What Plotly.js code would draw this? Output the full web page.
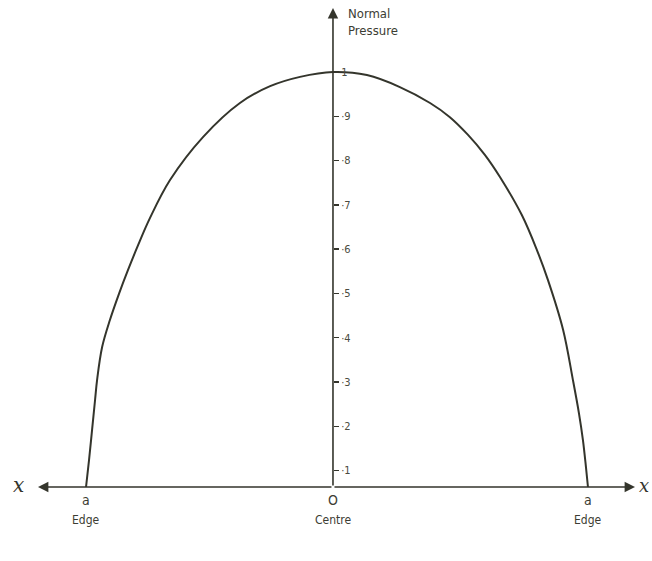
<!DOCTYPE html>
<html>
<head>
<meta charset="utf-8">
<script src="https://cdn.plot.ly/plotly-3.0.1.min.js"></script>
<style>
  html, body { margin: 0; padding: 0; background: #ffffff; }
  #chart { width: 652px; height: 561px; }
</style>
</head>
<body>
<div id="chart"></div>
<script>
// Normal pressure across the contact, from edge (-a) through centre (0) to edge (+a)
const position = [-0.982, -0.970, -0.958, -0.946, -0.938, -0.918, -0.887, -0.851, -0.815,
                  -0.775, -0.728, -0.648, -0.517, -0.370, -0.250, -0.131, 0.000,
                  0.135, 0.266, 0.386, 0.465, 0.537, 0.604, 0.664, 0.751, 0.811,
                  0.855, 0.915, 0.954, 0.978, 0.994, 1.006, 1.014];
const pressure = [0.063, 0.124, 0.192, 0.260, 0.305, 0.379, 0.440, 0.499, 0.553,
                  0.609, 0.670, 0.756, 0.853, 0.930, 0.968, 0.989, 1.000,
                  0.993, 0.966, 0.930, 0.898, 0.858, 0.813, 0.763, 0.677, 0.598,
                  0.530, 0.418, 0.305, 0.230, 0.169, 0.108, 0.063];

// Vertical scale marks
const tickValues = [0.1, 0.2, 0.3, 0.4, 0.5, 0.6, 0.7, 0.8, 0.9, 1.0];
const tickLabels = ['·1', '·2', '·3', '·4', '·5', '·6', '·7', '·8', '·9', '1'];

// Points marked along the base line
const markX = [-0.982, 0, 1.014];
const markSymbol = ['a', 'O', 'a'];
const markName = ['Edge', 'Centre', 'Edge'];

const xRange = [-1.173, 1.201];
const yRange = [0.063, 1.1445];
const ink = '#34352c';
const textInk = '#3c3d33';
const font = 'DejaVu Sans Condensed, DejaVu Sans, sans-serif';

const annotations = [];

// horizontal axis with arrows both ways, vertical axis with one arrow
const arrowStyle = {text: '', showarrow: true, arrowhead: 2, arrowsize: 1.3, arrowwidth: 1.6,
  arrowcolor: ink, standoff: 0, startstandoff: 0, xref: 'x', yref: 'y', axref: 'x', ayref: 'y'};
annotations.push(Object.assign({x: xRange[0], y: yRange[0], ax: 0, ay: yRange[0]}, arrowStyle));
annotations.push(Object.assign({x: xRange[1], y: yRange[0], ax: 0, ay: yRange[0]}, arrowStyle));
annotations.push(Object.assign({x: 0, y: yRange[1], ax: 0, ay: yRange[0]}, arrowStyle));

// axis name
annotations.push({x: 0, y: 1, xref: 'x', yref: 'paper', xanchor: 'left', yanchor: 'top', xshift: 13, yshift: 4,
  text: 'Normal<br>Pressure', showarrow: false, align: 'left',
  font: {family: font, size: 13, color: textInk}});

// x labels at each end
annotations.push({x: 0, y: yRange[0], xref: 'paper', yref: 'y', xanchor: 'center', yanchor: 'middle', xshift: -20, yshift: 2,
  text: '<i>x</i>', showarrow: false, font: {family: 'DejaVu Serif, serif', size: 20, color: ink}});
annotations.push({x: 1, y: yRange[0], xref: 'paper', yref: 'y', xanchor: 'left', yanchor: 'middle', xshift: 2, yshift: 2,
  text: '<i>x</i>', showarrow: false, font: {family: 'DejaVu Serif, serif', size: 18, color: ink}});

// symbols and names under the base line
for (let i = 0; i < markX.length; i++) {
  annotations.push({x: markX[i], y: 0, xref: 'x', yref: 'paper', xanchor: 'center', yanchor: 'top', yshift: -3,
    text: markSymbol[i], showarrow: false, font: {family: font, size: 14, color: textInk}});
  annotations.push({x: markX[i], y: 0, xref: 'x', yref: 'paper', xanchor: 'center', yanchor: 'top', yshift: -24,
    text: markName[i], showarrow: false, font: {family: font, size: 12, color: textInk}});
}

const trace = {
  x: position, y: pressure, type: 'scatter', mode: 'lines',
  line: {color: ink, width: 2, shape: 'spline', smoothing: 1.0},
  hoverinfo: 'skip'
};

const layout = {
  width: 652, height: 561,
  margin: {l: 38, r: 17, t: 8, b: 74},
  paper_bgcolor: '#ffffff', plot_bgcolor: '#ffffff',
  showlegend: false,
  xaxis: {range: xRange, visible: false, fixedrange: true},
  yaxis: {
    range: yRange, anchor: 'free', position: (0 - xRange[0]) / (xRange[1] - xRange[0]), side: 'right',
    showline: false, showgrid: false, zeroline: false,
    tickmode: 'array', tickvals: tickValues, ticktext: tickLabels,
    ticks: 'outside', ticklen: 5, tickwidth: 1.5, tickcolor: ink,
    tickfont: {family: font, size: 11, color: '#4a4b40'}, fixedrange: true
  },
  annotations: annotations
};

Plotly.newPlot('chart', [trace], layout, {staticPlot: true, displayModeBar: false});
</script>
</body>
</html>
